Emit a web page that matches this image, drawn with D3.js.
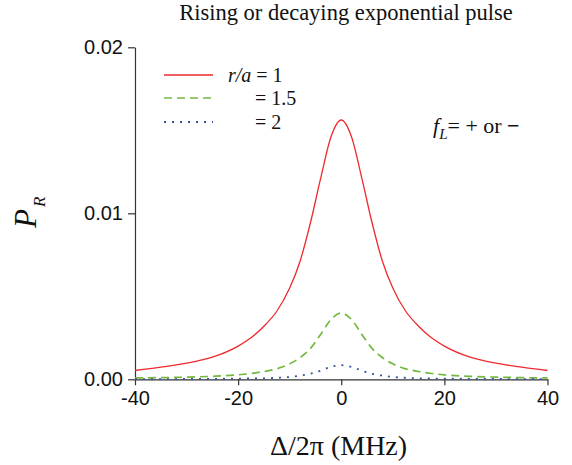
<!DOCTYPE html>
<html>
<head>
<meta charset="utf-8">
<script src="https://cdn.jsdelivr.net/npm/d3@7"></script>
<style>
  body { margin: 0; background: #fff; }
  text { fill: #111; }
</style>
</head>
<body>
<div id="chart"></div>
<script>
const width = 572;
const height = 465;

// detuning (MHz) sample points
const detuning = [-40, -35, -30, -25, -20, -17.5, -15, -12.5, -10, -8, -6, -4, -2, 0,
  2, 4, 6, 8, 10, 12.5, 15, 17.5, 20, 25, 30, 35, 40];
const pR1 = [0.00053, 0.00073, 0.00097, 0.00133, 0.0020, 0.0025, 0.0032, 0.0041, 0.0055, 0.0071, 0.0094, 0.0121, 0.0146, 0.01562,
  0.0146, 0.0121, 0.0094, 0.0071, 0.0055, 0.0041, 0.0032, 0.0025, 0.0020, 0.00133, 0.00097, 0.00073, 0.00053];
const pR15 = [0.00008, 0.00010, 0.00013, 0.00018, 0.00027, 0.00035, 0.00047, 0.00063, 0.00093, 0.0013, 0.00185, 0.0027, 0.0036, 0.0040,
  0.0036, 0.0027, 0.00185, 0.0013, 0.00093, 0.00063, 0.00047, 0.00035, 0.00027, 0.00018, 0.00013, 0.00010, 0.00008];
const pR2 = [0.00001, 0.00001, 0.00002, 0.00003, 0.00004, 0.00005, 0.00006, 0.00009, 0.00014, 0.00022, 0.00033, 0.00052, 0.00075, 0.00085,
  0.00075, 0.00052, 0.00033, 0.00022, 0.00014, 0.00009, 0.00006, 0.00005, 0.00004, 0.00003, 0.00002, 0.00001, 0.00001];

const xTicks = [-40, -20, 0, 20, 40];
const yTicks = [0, 0.01, 0.02];

const series = [
  { label: "1", values: pR1, color: "#ee2a2f", dash: null, w: 1.3 },
  { label: "1.5", values: pR15, color: "#72b83e", dash: "8,5", w: 1.7 },
  { label: "2", values: pR2, color: "#3452a6", dash: "2,6", w: 1.8 },
];

const serif = "'Liberation Serif', 'Times New Roman', serif";
const sans = "'Liberation Sans', Arial, sans-serif";

const svg = d3
  .select("#chart")
  .append("svg")
  .attr("width", width)
  .attr("height", height);

const x = d3.scaleLinear().domain([-40, 40]).range([135, 547.5]);
const y = d3.scaleLinear().domain([0, 0.02]).range([379.3, 47.3]);

//-------axes-------//
const xAxis = svg
  .append("g")
  .attr("transform", `translate(0,${y(0)})`)
  .call(d3.axisBottom(x).tickValues(xTicks).tickFormat((d) => String(d)).tickSize(6).tickPadding(6).tickSizeOuter(0));
const yAxis = svg
  .append("g")
  .attr("transform", `translate(${x(-40)},0)`)
  .call(d3.axisLeft(y).tickValues(yTicks).tickFormat((d) => d.toFixed(2)).tickSize(7).tickPadding(5).tickSizeOuter(0));

[xAxis, yAxis].forEach((g) => {
  g.selectAll("path, line").attr("stroke", "#333").attr("stroke-width", 1.2);
  g.selectAll("text").attr("font-family", sans).attr("font-size", 20).attr("fill", "#222");
});

//-------curves-------//
const line = d3
  .line()
  .x((d, i) => x(detuning[i]))
  .y((d) => y(d))
  .curve(d3.curveMonotoneX);

svg
  .append("g")
  .selectAll("path")
  .data(series)
  .join("path")
  .attr("fill", "none")
  .attr("stroke", (d) => d.color)
  .attr("stroke-width", (d) => d.w)
  .attr("stroke-dasharray", (d) => d.dash)
  .attr("d", (d) => line(d.values));

//-------legend-------//
const legend = svg.append("g");
const legendY = [75, 98, 122];
series.forEach((s, i) => {
  legend
    .append("line")
    .attr("x1", 164)
    .attr("x2", 213)
    .attr("y1", legendY[i])
    .attr("y2", legendY[i])
    .attr("stroke", s.color)
    .attr("stroke-width", s.w)
    .attr("stroke-dasharray", s.dash);
  const t = legend
    .append("text")
    .attr("x", i == 0 ? 228 : 255)
    .attr("y", legendY[i] + 7)
    .attr("font-family", serif)
    .attr("font-size", 20);
  if (i == 0) {
    t.append("tspan").attr("font-style", "italic").text("r/a");
  }
  t.append("tspan").text((i == 0 ? " " : "") + "= " + s.label);
});

//-------texts-------//
svg
  .append("text")
  .attr("x", 346)
  .attr("y", 20)
  .attr("text-anchor", "middle")
  .attr("font-family", serif)
  .attr("font-size", 22.5)
  .text("Rising or decaying exponential pulse");

const fl = svg
  .append("text")
  .attr("x", 433)
  .attr("y", 133)
  .attr("font-family", serif)
  .attr("font-size", 22);
fl.append("tspan").attr("font-style", "italic").text("f");
fl.append("tspan").attr("font-style", "italic").attr("font-size", 15).attr("dy", 6).text("L");
fl.append("tspan").attr("dy", -6).text("= + or ");
fl.append("tspan").attr("font-weight", "bold").text("\u2212");

svg
  .append("text")
  .attr("x", 270)
  .attr("y", 455)
  .attr("font-family", serif)
  .attr("font-size", 28)
  .text("\u0394/2\u03c0 (MHz)");

const yl = svg
  .append("text")
  .attr("transform", "translate(36,228) rotate(-90)")
  .attr("font-family", serif)
  .attr("font-style", "italic")
  .attr("font-size", 31);
yl.append("tspan").text("P");
yl.append("tspan").attr("font-size", 17).attr("dy", 9).attr("dx", 2).text("R");
</script>
</body>
</html>
